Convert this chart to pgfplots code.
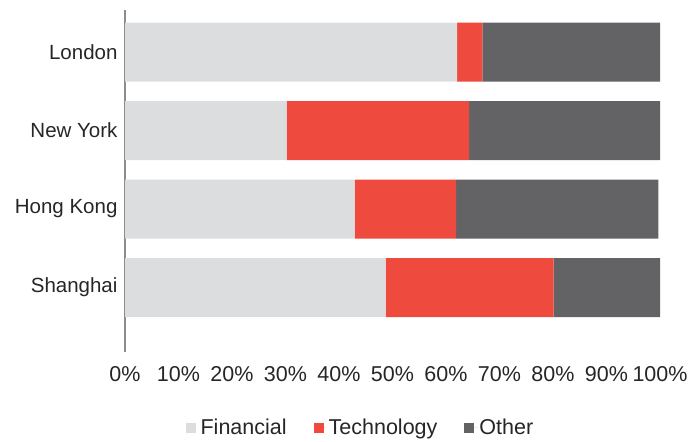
\documentclass[border=0pt]{standalone}
\usepackage{fontspec}
\setmainfont{Liberation Sans}
\usepackage{pgfplots}
\pgfplotsset{compat=1.18}
\definecolor{finc}{RGB}{220,221,222}
\definecolor{tech}{RGB}{238,75,62}
\definecolor{othr}{RGB}{99,99,101}
\definecolor{axgray}{RGB}{140,140,140}
\begin{document}
\begin{tikzpicture}
\useasboundingbox (0,0) rectangle (692pt,441pt);
\begin{axis}[
    at={(125pt,89pt)}, anchor=south west,
    scale only axis,
    width=535pt, height=342pt,
    xbar stacked,
    bar width=59pt,
    xmin=0, xmax=100,
    ymin=-0.82, ymax=3.535,
    axis lines*=left,
    y axis line style={axgray, line width=1.4pt},
    x axis line style={draw=none},
    ytick={0,1,2,3},
    yticklabels={Shanghai,Hong Kong,New York,London},
    xtick={0,10,...,100},
    xticklabels={0\%,10\%,20\%,30\%,40\%,50\%,60\%,70\%,80\%,90\%,100\%},
    major tick length=0pt,
    tick label style={text=black!85},
    yticklabel style={font=\fontsize{20.5}{24}\selectfont, anchor=east, xshift=-4pt},
    xticklabel style={font=\fontsize{21.5}{25}\selectfont, anchor=base, yshift=-29pt},
    legend style={at={(0.44,-0.222)}, anchor=center, draw=none,
        font=\fontsize{21.5}{25}\selectfont, text=black!85,
        legend columns=3,
        /tikz/every even column/.append style={column sep=25pt}},
    legend image code/.code={\fill[#1] (0pt,-5pt) rectangle (10pt,5pt); \path (0pt,0pt) -- (13pt,0pt);},
]
\addplot[draw=none, fill=finc] coordinates {(62.1,3) (30.2,2) (42.9,1) (48.7,0)};
\addplot[draw=none, fill=tech] coordinates {(4.7,3) (34.1,2) (19.0,1) (31.4,0)};
\addplot[draw=none, fill=othr] coordinates {(33.2,3) (35.7,2) (37.8,1) (19.9,0)};
\legend{Financial,Technology,Other}
\end{axis}
\end{tikzpicture}
\end{document}
